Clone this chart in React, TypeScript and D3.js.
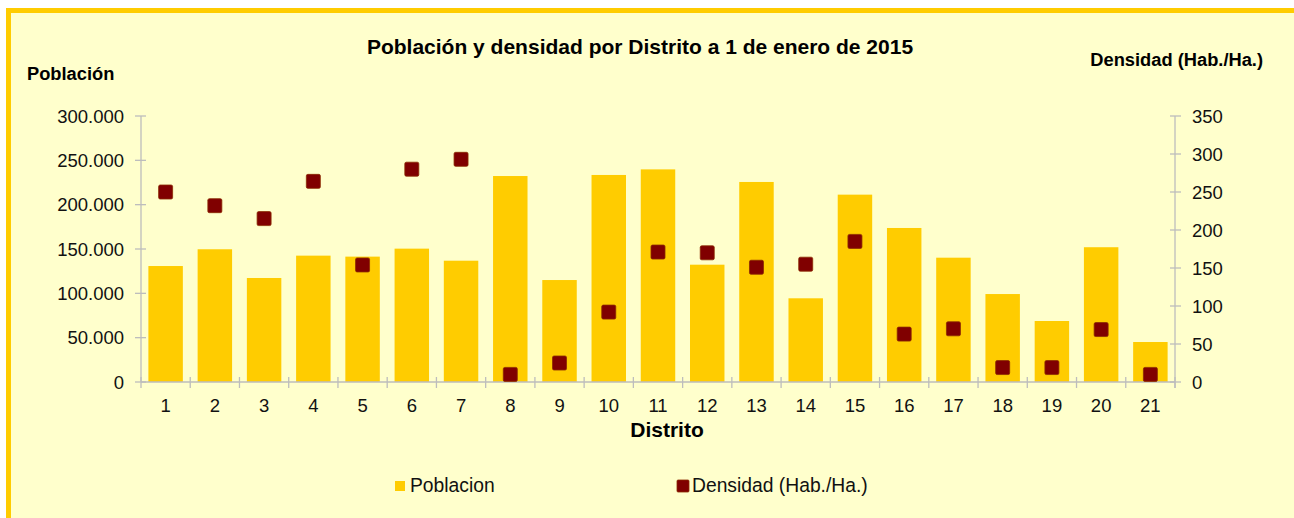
import React from "react";
import * as d3 from "d3";

// datos
const distritos = ["1","2","3","4","5","6","7","8","9","10","11","12","13","14","15","16","17","18","19","20","21"];
const poblacion = [130800, 149700, 117300, 142500, 141400, 150400, 136800, 232300, 115000, 233500, 239800, 132300, 225600, 94400, 211300, 173700, 140200, 99200, 68800, 152000, 45100];
const densidad = [250, 232, 215, 264, 154, 280, 293, 10, 25, 92, 171, 170, 151, 155, 185, 63, 70, 19, 19, 69, 10];
const ticksPob = [0, 50000, 100000, 150000, 200000, 250000, 300000];
const ticksDen = [0, 50, 100, 150, 200, 250, 300, 350];

const W = 1294, H = 518;
const left = 141, right = 1175, top = 116, bottom = 382;
const FONT = "'Liberation Sans', Arial, sans-serif";
const AXIS = "#BDBDBD";

const fmt = d3.formatLocale({ decimal: ",", thousands: ".", grouping: [3], currency: ["", ""] }).format(",d");

export default function App() {
  const x = d3.scaleBand().domain(distritos).range([left, right]).paddingInner(0.3).paddingOuter(0.15);
  const yP = d3.scaleLinear().domain([0, 300000]).range([bottom, top]);
  const yD = d3.scaleLinear().domain([0, 350]).range([bottom, top]);
  const step = x.step();
  const bounds = d3.range(distritos.length + 1).map((i) => left + i * step);
  const sq = 14;

  return (
    <svg width={W} height={H} style={{ position: "absolute", left: 0, top: 0 }} fontFamily={FONT}>
      <rect x={0} y={0} width={W} height={H} fill="#fff" />
      <rect x={8.5} y={10.5} width={W + 20} height={H + 20} fill="#FFFFCC" stroke="#FFCC00" strokeWidth={5} />

      <text x={640} y={54} textAnchor="middle" fontSize={21} fontWeight="bold">Población y densidad por Distrito a 1 de enero de 2015</text>
      <text x={27} y={80} fontSize={18.3} fontWeight="bold">Población</text>
      <text x={1263} y={66} textAnchor="end" fontSize={18.3} fontWeight="bold">Densidad (Hab./Ha.)</text>

      {/* barras */}
      {distritos.map((d, i) => (
        <rect key={"b" + d} x={x(d)} y={yP(poblacion[i])} width={x.bandwidth()} height={bottom - yP(poblacion[i])} fill="#FFCC00" />
      ))}

      {/* ejes */}
      <line x1={left} x2={left} y1={top} y2={bottom} stroke={AXIS} strokeWidth={1.3} />
      <line x1={right} x2={right} y1={top} y2={bottom + 6} stroke={AXIS} strokeWidth={1.3} />
      <line x1={left} x2={right} y1={bottom} y2={bottom} stroke={AXIS} strokeWidth={1.3} />
      {bounds.map((bx, i) => (
        <line key={"xt" + i} x1={bx} x2={bx} y1={bottom - 5} y2={bottom + 6} stroke={AXIS} strokeWidth={1.3} />
      ))}
      {ticksPob.map((t) => (
        <g key={"yp" + t}>
          <line x1={left - 6} x2={left + 5} y1={yP(t)} y2={yP(t)} stroke={AXIS} strokeWidth={1.3} />
          <text x={124} y={yP(t)} dy="0.36em" textAnchor="end" fontSize={18.5} fill="#111">{fmt(t)}</text>
        </g>
      ))}
      {ticksDen.map((t) => (
        <g key={"yd" + t}>
          <line x1={right - 5} x2={right + 6} y1={yD(t)} y2={yD(t)} stroke={AXIS} strokeWidth={1.3} />
          <text x={1192} y={yD(t)} dy="0.36em" fontSize={18.5} fill="#111">{t}</text>
        </g>
      ))}
      {distritos.map((d) => (
        <text key={"xl" + d} x={(x(d) as number) + x.bandwidth() / 2} y={412} textAnchor="middle" fontSize={18.5} fill="#111">{d}</text>
      ))}
      <text x={667} y={437} textAnchor="middle" fontSize={21} fontWeight="bold">Distrito</text>

      {/* densidad */}
      {distritos.map((d, i) => (
        <rect key={"m" + d} x={(x(d) as number) + x.bandwidth() / 2 - sq / 2} y={yD(densidad[i]) - sq / 2} width={sq} height={sq} rx={1.5}
          fill="#800000" stroke="#8a2a00" strokeWidth={0.8} />
      ))}

      {/* leyenda */}
      <rect x={395} y={481} width={10} height={10} fill="#FFCC00" />
      <text x={410} y={492} fontSize={19.3} fill="#111">Poblacion</text>
      <rect x={677} y={480} width={12} height={12} rx={1} fill="#800000" stroke="#8a2a00" strokeWidth={0.8} />
      <text x={692} y={492} fontSize={19.3} fill="#111">Densidad (Hab./Ha.)</text>
    </svg>
  );
}
